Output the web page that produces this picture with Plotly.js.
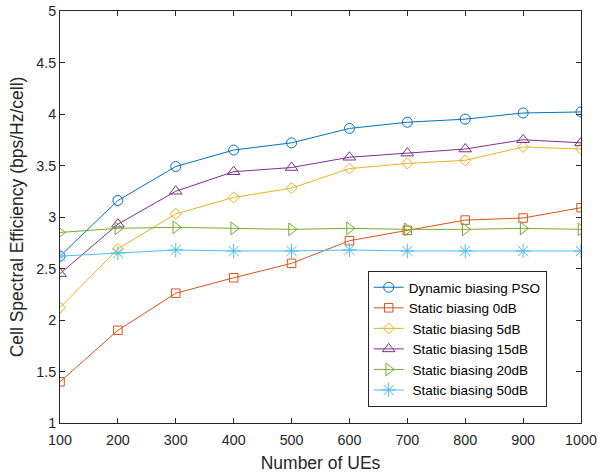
<!DOCTYPE html>
<html>
<head>
<meta charset="utf-8">
<script src="https://cdn.plot.ly/plotly-3.0.1.min.js"></script>
<style>html,body{margin:0;padding:0;background:#fff;}#chart{width:598px;height:474px;}</style>
</head>
<body>
<div id="chart"></div>
<script>
const numUEs = [100, 200, 300, 400, 500, 600, 700, 800, 900, 1000];
const dynamicPSO = [2.62, 3.16, 3.49, 3.65, 3.72, 3.86, 3.92, 3.95, 4.01, 4.02];
const static0dB  = [1.40, 1.90, 2.26, 2.41, 2.55, 2.77, 2.87, 2.97, 2.99, 3.09];
const static5dB  = [2.12, 2.69, 3.03, 3.19, 3.28, 3.47, 3.52, 3.55, 3.68, 3.66];
const static15dB = [2.45, 2.93, 3.25, 3.44, 3.48, 3.58, 3.62, 3.66, 3.75, 3.72];
const static20dB = [2.85, 2.89, 2.90, 2.89, 2.88, 2.89, 2.88, 2.88, 2.89, 2.88];
const static50dB = [2.62, 2.65, 2.68, 2.67, 2.67, 2.68, 2.67, 2.67, 2.67, 2.67];
const seriesNames = ["Dynamic biasing PSO", "Static biasing 0dB", "\u00a0Static biasing 5dB",
  "\u00a0Static biasing 15dB", "\u00a0Static biasing 20dB", "\u00a0Static biasing 50dB"];
const xTicks = [100, 200, 300, 400, 500, 600, 700, 800, 900, 1000];
const yTicks = [1, 1.5, 2, 2.5, 3, 3.5, 4, 4.5, 5];

const colors = ["#0072BD", "#D95319", "#EDB120", "#7E2F8E", "#77AC30", "#4DBEEE"];
const symbols = ["circle-open", "square-open", "diamond-open", "triangle-up-open", "triangle-right-open", "asterisk-open"];
const sizes = [10, 8.5, 8.5, 11, 11, 12];
const ys = [dynamicPSO, static0dB, static5dB, static15dB, static20dB, static50dB];

const traces = ys.map((y, i) => ({
  x: numUEs, y: y, name: seriesNames[i], type: "scatter", mode: "lines+markers",
  line: {color: colors[i], width: 1},
  marker: {symbol: symbols[i], size: sizes[i], color: colors[i], line: {color: colors[i], width: 1}}
}));

const FAM = "Liberation Sans, Arial, Helvetica, sans-serif";
const tickFont = {family: FAM, size: 14.3, color: "#262626"};
const titleFont = {family: FAM, size: 17.5, color: "#262626"};
const layout = {
  width: 598, height: 474,
  margin: {l: 60, r: 17, t: 11, b: 51},
  paper_bgcolor: "#fff", plot_bgcolor: "#fff",
  showlegend: true,
  font: tickFont,
  xaxis: {
    range: [100, 1000], tickvals: xTicks, ticktext: xTicks.map(String),
    ticks: "inside", ticklen: 5, tickcolor: "#262626", mirror: "ticks",
    showline: true, linecolor: "#262626", linewidth: 1, showgrid: false, zeroline: false,
    tickfont: tickFont, ticklabelstandoff: 4,
    title: {text: "Number of UEs", font: titleFont, standoff: 9}
  },
  yaxis: {
    range: [1, 5], tickvals: yTicks, ticktext: yTicks.map(String),
    ticks: "inside", ticklen: 5, tickcolor: "#262626", mirror: "ticks",
    showline: true, linecolor: "#262626", linewidth: 1, showgrid: false, zeroline: false,
    tickfont: tickFont,
    title: {text: "Cell Spectral Efficiency (bps/Hz/cell)", font: titleFont, standoff: 8}
  },
  legend: {
    x: 0.5906, y: 0.369, xanchor: "left", yanchor: "top",
    bgcolor: "#fff", bordercolor: "#262626", borderwidth: 1,
    font: {family: FAM, size: 13.5, color: "#000"},
    itemwidth: 30, tracegroupgap: 0
  }
};

Plotly.newPlot("chart", traces, layout, {displayModeBar: false, staticPlot: true});
</script>
</body>
</html>
